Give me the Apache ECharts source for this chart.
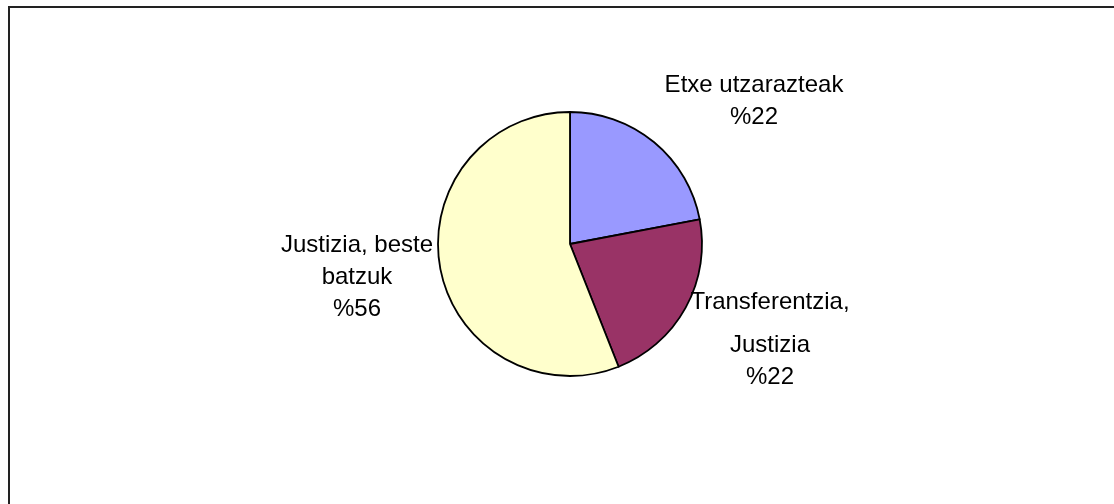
<!DOCTYPE html>
<html>
<head>
<meta charset="utf-8">
<script src="https://cdn.jsdelivr.net/npm/echarts@6/dist/echarts.min.js"></script>
<style>
html,body{margin:0;padding:0;background:#fff;}
#chart{width:1114px;height:504px;}
</style>
</head>
<body>
<div id="chart"></div>
<script>
const categories = ['Etxe utzarazteak', 'Transferentzia, Justizia', 'Justizia, beste batzuk'];
const values = [22, 22, 56];
const labelTexts = [
  '{b|Etxe utzarazteak}\n{b|%22}',
  '{b|Transferentzia,}\n{s| }\n{b|Justizia}\n{b|%22}',
  '{b|Justizia, beste}\n{b|batzuk}\n{b|%56}'
];
const colors = ['#9999FF', '#993366', '#FFFFCC'];

const labelAnchors = [[754, 69], [770, 286], [357, 229]];

const chart = echarts.init(document.getElementById('chart'), null, {renderer: 'canvas'});
const font = "'Liberation Sans', Arial, sans-serif";
chart.setOption({
  animation: false,
  backgroundColor: '#ffffff',
  graphic: [
    {type: 'line', shape: {x1: 8, y1: 7, x2: 1114, y2: 7}, style: {stroke: '#222', lineWidth: 2}},
    {type: 'line', shape: {x1: 9, y1: 6, x2: 9, y2: 504}, style: {stroke: '#222', lineWidth: 2}}
  ],
  series: [{
    type: 'pie',
    center: [570, 244],
    radius: 132,
    startAngle: 90,
    clockwise: true,
    data: categories.map((c, i) => ({name: c, value: values[i], itemStyle: {color: colors[i]}})),
    itemStyle: {borderColor: '#000', borderWidth: 1.8},
    label: {
      show: true,
      position: 'outside',
      formatter: p => labelTexts[p.dataIndex],
      color: '#000',
      fontFamily: font,
      fontSize: 24,
      align: 'center',
      rich: {
        b: {fontFamily: font, fontSize: 24, color: '#000', lineHeight: 32},
        s: {fontFamily: font, fontSize: 2, color: '#000', lineHeight: 11}
      }
    },
    labelLine: {show: false},
    labelLayout: p => ({
      x: labelAnchors[p.dataIndex][0],
      y: labelAnchors[p.dataIndex][1],
      align: 'center',
      verticalAlign: 'top'
    }),
    emphasis: {disabled: true}
  }]
});
</script>
</body>
</html>
